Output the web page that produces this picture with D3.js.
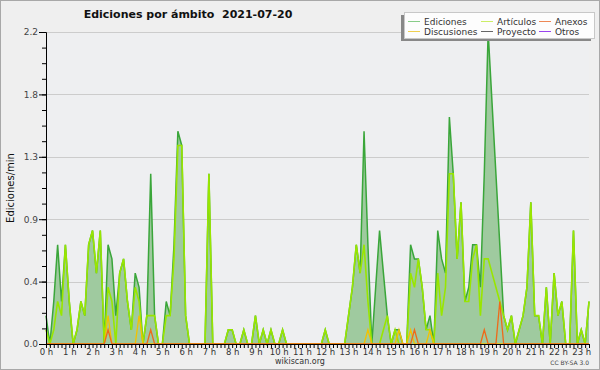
<!DOCTYPE html>
<html>
<head>
<meta charset="utf-8">
<script src="https://cdn.jsdelivr.net/npm/d3@7"></script>
<style>
body { margin: 0; background: #fff; }
svg { display: block; font-family: "DejaVu Sans", sans-serif; }
</style>
</head>
<body>
<svg id="chart" width="600" height="370"></svg>
<script>
// one value every 10 minutes, 00:00 .. 23:20 (edits per minute)
var minutes = d3.range(0, 1401, 10);

var ediciones = [
    .2, 0, .3, .7, .3, .7, .3, 0, .1, .3, .2, .7,
    .8, .5, .8, 0, .7, .6, .2, .5, .6, .3, .1, .5,
    .4, 0, .2, 1.2, .2, 0, 0, .3, .2, .7, 1.5, 1.4,
    .2, 0, 0, 0, 0, 0, 1.2, 0, 0, 0, 0, .1,
    .1, 0, 0, .1, 0, 0, .2, 0, .1, 0, .1, 0,
    0, .1, 0, 0, 0, 0, 0, 0, 0, 0, 0, 0,
    .1, 0, 0, 0, 0, 0, .2, .4, .7, .5, 1.5, .7,
    0, .4, .8, .5, .2, 0, .1, .1, 0, 0, .7, .6,
    .6, .4, .1, .2, 0, .8, .6, .5, 1.6, 1.2, .6, 1.0,
    .3, .4, .7, .7, .4, 1.2, 2.2, 1.7, 1.2, .7, .2, .1,
    .2, 0, .1, .2, .4, 1.0, .2, .2, 0, .4, 0, .5,
    .2, .3, 0, 0, .8, 0, .1, 0, .3
];

var articulos = [
    .1, 0, .1, .3, .2, .7, .3, 0, .1, .3, .2, .7,
    .8, .5, .8, 0, .4, .3, 0, .5, .6, .3, .1, .4,
    .3, 0, .2, .2, .2, 0, 0, .2, .2, .6, 1.4, 1.4,
    .2, 0, 0, 0, 0, 0, 1.2, 0, 0, 0, 0, .1,
    .1, 0, 0, .1, 0, 0, .2, 0, .1, 0, .1, 0,
    0, .1, 0, 0, 0, 0, 0, 0, 0, 0, 0, 0,
    .1, 0, 0, 0, 0, 0, .2, .4, .7, .5, .7, .3,
    0, 0, 0, .1, .2, 0, .1, 0, 0, 0, .5, .4,
    .6, .4, .1, .1, 0, .5, .2, .4, 1.2, 1.2, .6, 1.0,
    .3, .3, .6, .7, .2, .6, .6, .5, .4, .3, .2, .1,
    .2, 0, .1, .2, .4, 1.0, .2, .2, 0, .4, 0, .5,
    .2, .3, 0, 0, .8, 0, .1, 0, .3
];

var discusiones = [
    0, 0, 0, 0, 0, 0, 0, 0, 0, 0, 0, 0,
    0, 0, 0, 0, .2, 0, 0, 0, 0, 0, 0, 0,
    .2, 0, 0, 0, 0, 0, 0, 0, 0, 0, 0, 0,
    0, 0, 0, 0, 0, 0, 0, 0, 0, 0, 0, 0,
    0, 0, 0, 0, 0, 0, 0, 0, 0, 0, 0, 0,
    0, 0, 0, 0, 0, 0, 0, 0, 0, 0, 0, 0,
    0, 0, 0, 0, 0, 0, 0, 0, 0, 0, 0, .1,
    0, 0, 0, 0, 0, 0, 0, .1, 0, 0, .1, 0,
    0, 0, 0, .1, 0, 0, 0, 0, 0, 0, 0, 0,
    0, 0, 0, 0, 0, 0, 0, 0, 0, 0, 0, 0,
    0, 0, 0, 0, 0, 0, 0, 0, 0, 0, 0, 0,
    0, 0, 0, 0, 0, 0, 0, 0, 0
];

var anexos = [
    0, 0, 0, 0, 0, 0, 0, 0, 0, 0, 0, 0,
    0, 0, 0, 0, .1, 0, 0, 0, 0, 0, 0, 0,
    0, 0, 0, .1, 0, 0, 0, 0, 0, 0, 0, 0,
    0, 0, 0, 0, 0, 0, 0, 0, 0, 0, 0, 0,
    0, 0, 0, 0, 0, 0, 0, 0, 0, 0, 0, 0,
    0, 0, 0, 0, 0, 0, 0, 0, 0, 0, 0, 0,
    0, 0, 0, 0, 0, 0, 0, 0, 0, 0, 0, 0,
    0, 0, 0, 0, 0, 0, 0, 0, 0, 0, 0, .1,
    0, 0, 0, 0, 0, 0, 0, 0, 0, 0, 0, 0,
    0, 0, 0, 0, 0, .1, 0, 0, 0, .3, 0, 0,
    0, 0, 0, 0, 0, 0, 0, 0, 0, 0, 0, 0,
    0, 0, 0, 0, 0, 0, 0, 0, 0
];

var hourLabels = ["0 h", "1 h", "2 h", "3 h", "4 h", "5 h", "6 h", "7 h", "8 h", "9 h", "10 h", "11 h",
    "12 h", "13 h", "14 h", "15 h", "16 h", "17 h", "18 h", "19 h", "20 h", "21 h", "22 h", "23 h"];
var yTickValues = [0, 0.44, 0.88, 1.32, 1.76, 2.2];
var yTickLabels = ["0.0", "0.4", "0.9", "1.3", "1.8", "2.2"];

var legendNames = ["Ediciones", "Artículos", "Anexos", "Discusiones", "Proyecto", "Otros"];
var legendColors = ["#88cc88", "#ccee66", "#ee8855", "#f0d050", "#666666", "#9944ee"];

var margin = {top: 32, right: 11, bottom: 26, left: 46},
    width = 600 - margin.left - margin.right,
    height = 370 - margin.top - margin.bottom;

var svg = d3.select("#chart");

svg.append("rect")
    .attr("x", 0.5).attr("y", 0.5)
    .attr("width", 599).attr("height", 369)
    .attr("fill", "#efefef")
    .attr("stroke", "#a8a8a8");

var x = d3.scaleLinear().domain([0, 1400]).range([0, width]);
var y = d3.scaleLinear().domain([0, 2.2]).range([height, 0]);

var chart = svg.append("g")
    .attr("transform", "translate(" + margin.left + "," + margin.top + ")");

chart.append("rect")
    .attr("width", width)
    .attr("height", height)
    .attr("fill", "#eeeff1");

// grid
chart.selectAll(".grid")
    .data(yTickValues.slice(1))
    .enter().append("line")
    .attr("class", "grid")
    .attr("x1", 0).attr("x2", width)
    .attr("y1", function(d) { return Math.round(y(d)) + 0.5; })
    .attr("y2", function(d) { return Math.round(y(d)) + 0.5; })
    .attr("stroke", "#cccccc");

var area = d3.area()
    .x(function(d, i) { return x(minutes[i]); })
    .y0(height)
    .y1(function(d) { return y(d); });

var line = d3.line()
    .x(function(d, i) { return x(minutes[i]); })
    .y(function(d) { return y(d); });

chart.append("path")
    .datum(ediciones)
    .attr("d", area)
    .attr("fill", "#9fca9f");

chart.append("path")
    .datum(ediciones)
    .attr("d", line)
    .attr("fill", "none")
    .attr("stroke", "#3aa63a")
    .attr("stroke-width", 1.5);

chart.append("path")
    .datum(articulos)
    .attr("d", line)
    .attr("fill", "none")
    .attr("stroke", "#99e600")
    .attr("stroke-width", 1.6);

chart.append("path")
    .datum(discusiones)
    .attr("d", line)
    .attr("fill", "none")
    .attr("stroke", "#f2c200")
    .attr("stroke-width", 1.3);

chart.append("path")
    .datum(anexos)
    .attr("d", line)
    .attr("fill", "none")
    .attr("stroke", "#ee6a1a")
    .attr("stroke-width", 1.3);

// axes
var xAxis = d3.axisBottom(x)
    .tickValues(minutes)
    .tickSize(4)
    .tickPadding(1)
    .tickFormat(function(d) {
        return d % 60 === 0 ? hourLabels[d / 60] : "";
    });

chart.append("g")
    .attr("class", "x axis")
    .attr("transform", "translate(0," + height + ")")
    .call(xAxis);

var yAxis = d3.axisLeft(y)
    .tickValues(yTickValues)
    .tickSize(7)
    .tickPadding(1)
    .tickFormat(function(d, i) { return yTickLabels[i]; });

chart.append("g")
    .attr("class", "y axis")
    .call(yAxis);

chart.append("g")
    .attr("class", "y minor")
    .call(d3.axisLeft(y).tickValues(d3.range(0, 2.2001, 0.11)).tickSize(4).tickFormat(""))
    .select(".domain").remove();

chart.selectAll(".axis .domain, .axis line, .minor line").attr("stroke", "#000");
chart.selectAll(".x.axis text")
    .attr("font-family", "DejaVu Sans")
    .attr("font-size", "8.5px")
    .attr("fill", "#333");
chart.selectAll(".y.axis text")
    .attr("font-family", "DejaVu Sans")
    .attr("font-size", "9px")
    .attr("fill", "#444");

// titles
svg.append("text")
    .text("Ediciones por ámbito\u00a0\u00a02021-07-20")
    .attr("x", 188)
    .attr("y", 18)
    .attr("text-anchor", "middle")
    .attr("font-size", "11px")
    .attr("font-weight", "bold")
    .attr("fill", "#111");

svg.append("text")
    .text("Ediciones/min")
    .attr("text-anchor", "middle")
    .attr("font-size", "10px")
    .attr("fill", "#111")
    .attr("transform", "translate(14,188) rotate(-90)");

svg.append("text")
    .text("wikiscan.org")
    .attr("x", 300)
    .attr("y", 364)
    .attr("text-anchor", "middle")
    .attr("font-size", "8px")
    .attr("fill", "#333");

svg.append("text")
    .text("CC BY-SA 3.0")
    .attr("x", 589)
    .attr("y", 365)
    .attr("text-anchor", "end")
    .attr("font-size", "6px")
    .attr("fill", "#444");

// legend
var legend = svg.append("g").attr("transform", "translate(404,12)");
legend.append("rect")
    .attr("x", -3).attr("y", 3)
    .attr("width", 190).attr("height", 26)
    .attr("fill", "#888");
legend.append("rect")
    .attr("x", 0.5).attr("y", 0.5)
    .attr("width", 190).attr("height", 26)
    .attr("fill", "#fdfdfd")
    .attr("stroke", "#c8c8c8");

var colX = [4, 77, 135];
var item = legend.selectAll(".item")
    .data(legendNames)
    .enter().append("g")
    .attr("class", "item")
    .attr("transform", function(d, i) {
        return "translate(" + colX[i % 3] + "," + (i < 3 ? 9 : 19) + ")";
    });

item.append("line")
    .attr("x1", 0).attr("x2", 12)
    .attr("y1", 0.5).attr("y2", 0.5)
    .attr("stroke", function(d, i) { return legendColors[i]; });

item.append("text")
    .text(function(d) { return d; })
    .attr("x", 16)
    .attr("y", 3.5)
    .attr("font-size", "9px")
    .attr("fill", "#333");
</script>
</body>
</html>
